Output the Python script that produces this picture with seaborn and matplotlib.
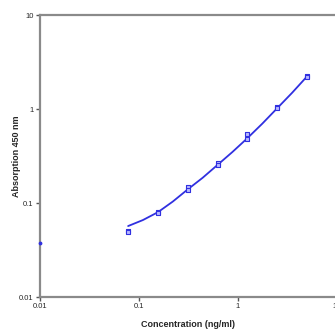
import numpy as np
import pandas as pd
import matplotlib
matplotlib.use("Agg")
import matplotlib.pyplot as plt
import seaborn as sns

# standard curve, concentrations in ng/ml
conc = [0.078, 0.156, 0.3125, 0.625, 1.25, 2.5, 5.0]
rep1 = [0.050, 0.080, 0.148, 0.265, 0.54, 1.05, 2.25]
rep2 = [0.049, 0.079, 0.138, 0.255, 0.48, 1.02, 2.22]

# fitted curve
fit_conc = [0.078, 0.110, 0.156, 0.221, 0.3125, 0.442, 0.625, 0.884,
            1.25, 1.77, 2.5, 3.54, 5.0]
fit_abs = [0.057, 0.066, 0.080, 0.104, 0.140, 0.186, 0.255, 0.350,
           0.49, 0.70, 1.02, 1.49, 2.22]

blank_conc = [0.01]
blank_abs = [0.038]

sns.set_style("white")
plt.rcParams['font.family'] = ['Liberation Sans', 'DejaVu Sans']

blue = "#3030e0"

fig = plt.figure(figsize=(3.35, 3.29), dpi=100)
ax = fig.add_axes([0.119, 0.097, 0.886, 0.857])

fit_df = pd.DataFrame({"conc": fit_conc, "abs": fit_abs})
sns.lineplot(data=fit_df, x="conc", y="abs", color=blue, lw=1.3, ax=ax)

pts = pd.DataFrame({"conc": conc + conc, "abs": rep1 + rep2})
sns.scatterplot(data=pts, x="conc", y="abs", marker="s", s=7, color="#b8b8ff",
                edgecolor=blue, linewidth=0.8, ax=ax, zorder=3)
ax.scatter(blank_conc, blank_abs, s=3, color=blue, clip_on=False, zorder=3)

ax.set_xscale("log")
ax.set_yscale("log")
ax.set_xlim(0.01, 10)
ax.set_ylim(0.01, 10)
ax.set_xticks([0.01, 0.1, 1, 10])
ax.set_xticklabels(["0.01", "0.1", "1", "10"])
ax.set_yticks([0.01, 0.1, 1, 10])
ax.set_yticklabels(["0.01", "0.1", "1", "10"])
ax.minorticks_off()
ax.tick_params(axis="both", labelsize=5.5, length=3, width=1, color="#555555",
               pad=1.5, direction="out", bottom=True, left=True)

for side in ["left", "bottom", "top"]:
    ax.spines[side].set_color("#8a8a8a")
    ax.spines[side].set_linewidth(1.6)
ax.spines["right"].set_visible(False)

ax.set_xlabel("Concentration (ng/ml)", fontsize=6.5, fontweight="bold", labelpad=7)
ax.set_ylabel("Absorption 450 nm", fontsize=6.5, fontweight="bold")
ax.yaxis.set_label_coords(-0.062, 0.5)

fig.savefig("out.png", dpi=100)
